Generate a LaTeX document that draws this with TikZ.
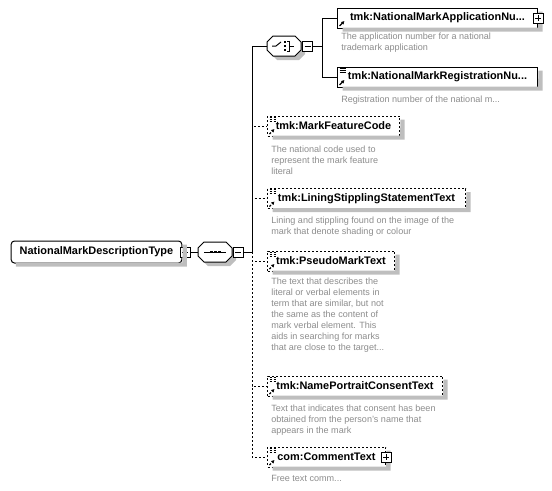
\documentclass[tikz,border=0pt]{standalone}
\usepackage{fontspec}
\setmainfont{Liberation Sans}
\usetikzlibrary{arrows.meta,positioning}
\definecolor{schemaInk}{HTML}{000000}
\definecolor{schemaNote}{HTML}{8C8C8C}
\definecolor{schemaShade}{HTML}{BEBEBE}
\tikzset{
  typeBox/.style={
    rectangle,
    rounded corners=2.5pt,
    draw=schemaInk,
    fill=white,
    line width=0.75pt,
    minimum width=128pt,
    minimum height=16.5pt,
    inner sep=0pt,
    font=\fontsize{8.2}{10}\selectfont\bfseries
  },
  compositor/.style={
    rectangle,
    minimum width=25.5pt,
    minimum height=15pt,
    inner sep=0pt
  },
  octagon/.style={
    insert path={++(-17,-4) -- ++(6,-6) -- ++(22,0) -- ++(6,6) -- ++(0,8)
      -- ++(-6,6) -- ++(-22,0) -- ++(-6,-6) -- cycle}
  },
  toggle/.style={
    rectangle,
    draw=schemaInk,
    fill=white,
    line width=0.75pt,
    minimum size=7.5pt,
    inner sep=0pt
  },
  minusBox/.style={
    toggle,
    path picture={\draw[line width=0.75pt] (path picture bounding box.center) ++(-3,0) -- ++(6,0);}
  },
  plusBox/.style={
    toggle,
    path picture={\draw[line width=0.75pt] (path picture bounding box.center) ++(-3,0) -- ++(6,0)
      (path picture bounding box.center) ++(0,-3) -- ++(0,6);}
  },
  element/.style={
    rectangle,
    draw=schemaInk,
    fill=white,
    line width=0.75pt,
    minimum height=15pt,
    inner xsep=0pt,
    inner ysep=0pt,
    anchor=west,
    font=\fontsize{8.2}{10}\selectfont\bfseries
  },
  reqElement/.style={element},
  optElement/.style={element,dash pattern=on 1.5pt off 1.5pt},
  refIcon/.style={
    path picture={\draw[-{Latex[length=2.4pt,width=2.8pt]},line width=1pt]
      (path picture bounding box.south west) ++(2,-2) -- ++(5,-5);}
  },
  simpleIcons/.style={
    path picture={\draw[line width=0.6pt] (path picture bounding box.north west)
      ++(2,1) -- ++(6,0) ++(-6,2) -- ++(6,0) ++(-6,2) -- ++(6,0);
      \draw[-{Latex[length=2.4pt,width=2.8pt]},line width=1pt]
      (path picture bounding box.south west) ++(2,-2) -- ++(5,-5);}
  },
  note/.style={
    anchor=north west,
    inner sep=0pt,
    align=left,
    text=schemaNote,
    font=\fontsize{6.8}{8.25}\selectfont
  },
  link/.style={
    draw=schemaInk,
    line width=0.75pt
  },
  optLink/.style={
    link,
    dash pattern=on 1.5pt off 1.5pt
  }
}

\begin{document}
\begin{tikzpicture}[x=0.75pt,y=-0.75pt]
  \useasboundingbox (0,0) rectangle (552,490);
  % type and compositors
  \node[typeBox] (root) at (96.5,252) {NationalMarkDescriptionType};
  \node[minusBox] (rootToggle) at (185,252) {};
  \node[compositor] (sequence) at (215,252) {};
  \fill[schemaShade] (sequence.center) ++(4,4) [octagon];
  \draw[link,fill=white] (sequence.center) [octagon];
  \node[minusBox] (sequenceToggle) at (238,252) {};
  \coordinate (sequenceBus) at (252,252);
  \node[compositor] (choice) at (284,46) {};
  \fill[schemaShade] (choice.center) ++(4,4) [octagon];
  \draw[link,fill=white] (choice.center) [octagon];
  \node[minusBox] (choiceToggle) at (307.5,46) {};
  \coordinate (choiceBus) at (322,46);
  \draw[link] (sequence.center) ++(-11,0) -- ++(22,0);
  \foreach \d in {-4,0,4}
    \fill[schemaInk] (sequence.center) ++(\d,0) +(-1.5,-1.3) rectangle +(1.5,1.3);
  \draw[link] (choice.center) ++(-12,0) -- ++(4,0) -- ++(5,-4);
  \foreach \d in {-4,0,4}
    \fill[schemaInk] (choice.center) ++(1,\d) +(-1.1,-1.1) rectangle +(1.1,1.1);
  \draw[link] (choice.center) ++(3,-5) -- ++(2,0) -- ++(0,10) -- ++(-2,0)
    (choice.center) ++(5,0) -- ++(5,0);
  % choice members
  \node[reqElement,refIcon,minimum width=150pt] (applicationNumber) at (337,18) {tmk:NationalMarkApplicationNu...};
  \node[note] (applicationNote) at (341,33) {The application number for a national\\trademark application};
  \node[reqElement,simpleIcons,minimum width=150pt] (registrationNumber) at (337,77) {tmk:NationalMarkRegistrationNu...};
  \node[note] (registrationNote) at (341,95.5) {Registration number of the national m...};
  % sequence members
  \node[optElement,simpleIcons,minimum width=99pt] (featureCode) at (267,126) {tmk:MarkFeatureCode};
  \node[note] (featureNote) at (271,145.5) {The national code used to\\represent the mark feature\\literal};
  \node[optElement,simpleIcons,minimum width=148.5pt] (lining) at (267,198.5) {tmk:LiningStipplingStatementText};
  \node[note] (liningNote) at (271,216.5) {Lining and stippling found on the image of the\\mark that denote shading or colour};
  \node[optElement,simpleIcons,minimum width=95.25pt] (pseudoMark) at (267,261) {tmk:PseudoMarkText};
  \node[note] (pseudoNote) at (271,278) {The text that describes the\\literal or verbal elements in\\term that are similar, but not\\the same as the content of\\mark verbal element. This\\aids in searching for marks\\that are close to the target...};
  \node[optElement,simpleIcons,minimum width=131.25pt] (portrait) at (267,386) {tmk:NamePortraitConsentText};
  \node[note] (portraitNote) at (271,404.5) {Text that indicates that consent has been\\obtained from the person's name that\\appears in the mark};
  \node[optElement,simpleIcons,minimum width=88.5pt] (comment) at (267,457) {com:CommentText};
  \node[note] (commentNote) at (271,474.5) {Free text comm...};
  % shadows, right and lower strips
  \foreach \n/\w/\h in {root/171/22,applicationNumber/200/20,registrationNumber/200/20,featureCode/132/20,
      lining/198/20,pseudoMark/127/20,portrait/175/20,comment/118/20}
    \fill[schemaShade] (\n.north east) ++(0.5,4) -- ++(4,0) -- ++(0,\h) -- ++(-\w,0) -- ++(0,-4)
      -- ++(\w-4.5,0) -- cycle;
  \node[plusBox] (applicationToggle) at (538,18) {};
  \node[plusBox] (commentToggle) at (386,457) {};
  % connectors
  \draw[link] (rootToggle.east) -- (sequence.west);
  \draw[link] (sequenceToggle.east) -- (sequenceBus) |- (choice.west);
  \draw[link] (choiceToggle.east) -- (choiceBus) |- (applicationNumber.west);
  \draw[link] (choiceBus) |- (registrationNumber.west);
  \draw[optLink] (sequenceBus) |- (featureCode.west);
  \draw[optLink] (sequenceBus) |- (lining.west);
  \draw[optLink] (sequenceBus) |- (pseudoMark.west);
  \draw[optLink] (sequenceBus) |- (portrait.west);
  \draw[optLink] (sequenceBus) |- (comment.west);
\end{tikzpicture}
\end{document}
